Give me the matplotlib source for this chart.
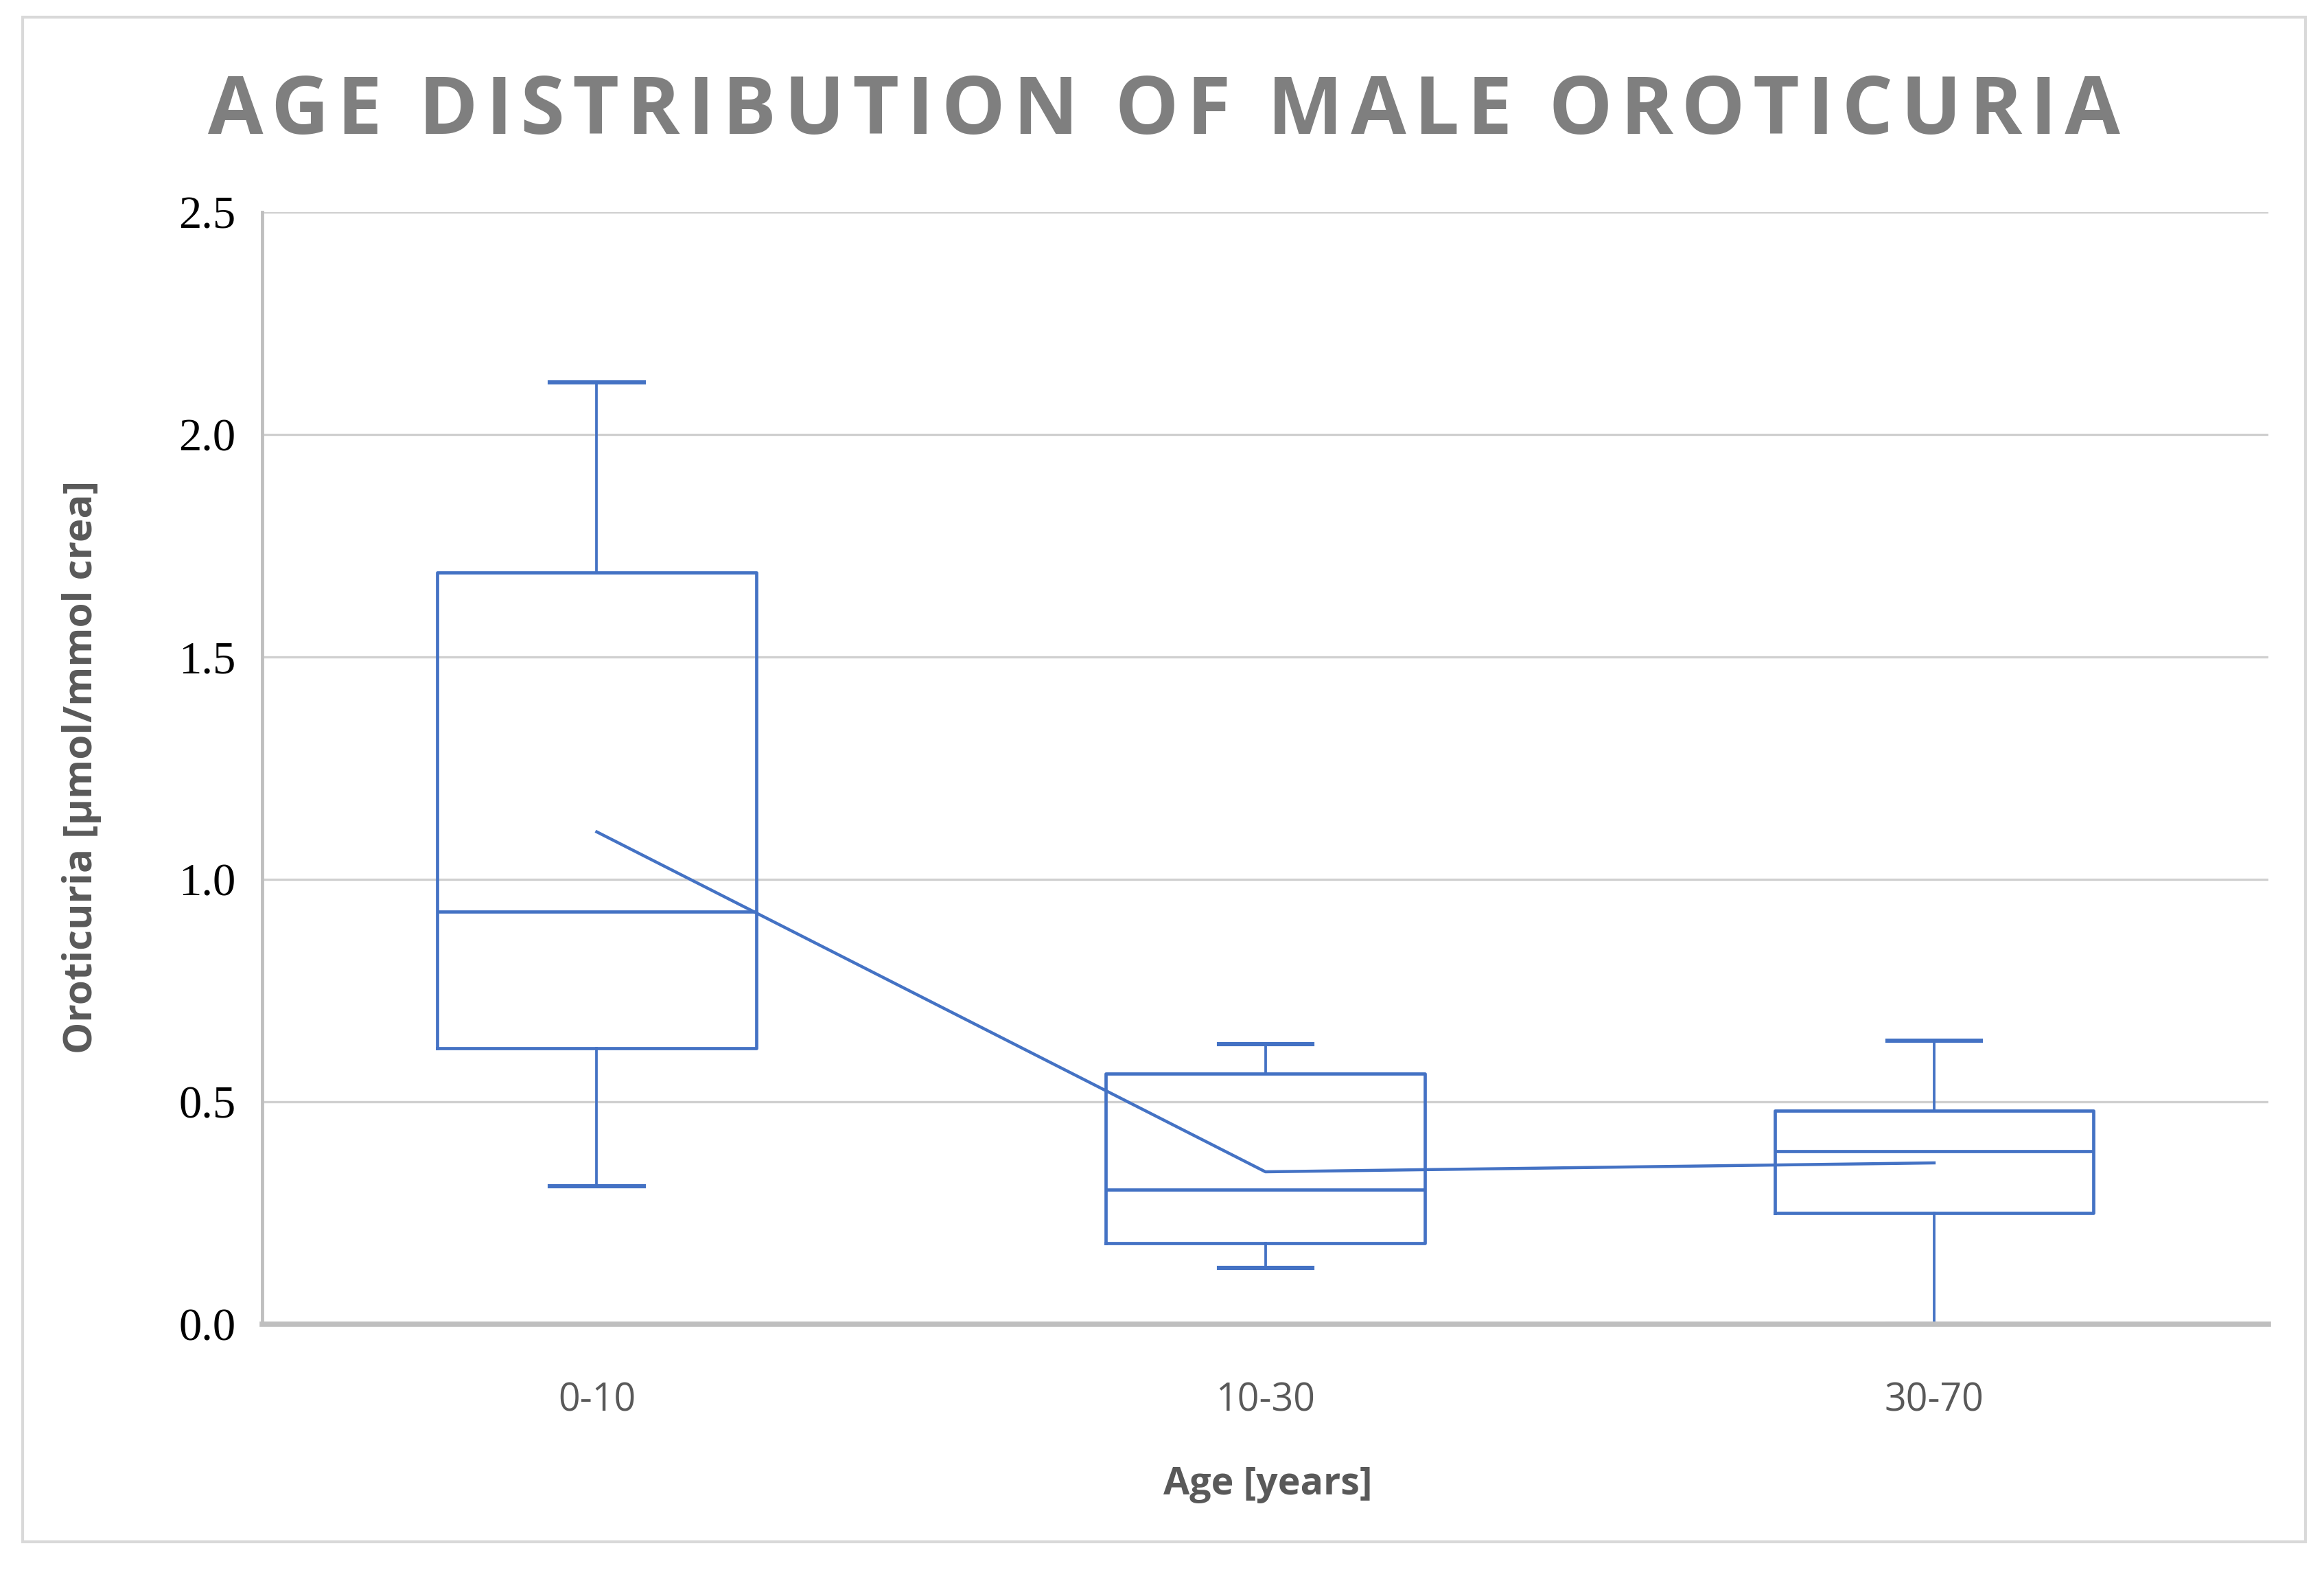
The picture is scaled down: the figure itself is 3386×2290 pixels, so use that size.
import matplotlib
matplotlib.use("Agg")
import matplotlib.pyplot as plt
import matplotlib.transforms as mtransforms
from matplotlib.patches import Rectangle

# values
groups = ["0-10", "10-30", "30-70"]
whislo = [0.31, 0.127, 0.0]
q1 = [0.62, 0.183, 0.25]
med = [0.927, 0.303, 0.39]
q3 = [1.69, 0.563, 0.48]
whishi = [2.117, 0.63, 0.637]
means = [1.107, 0.343, 0.363]
yticks = [0.0, 0.5, 1.0, 1.5, 2.0, 2.5]

title = "AGE DISTRIBUTION OF MALE OROTICURIA"

blue = "#4472C4"
grey_txt = "#595959"

fig = plt.figure(figsize=(33.87, 22.9), dpi=100)
fig.patch.set_facecolor("white")

# outer frame
fig.patches.append(Rectangle((0.0096, 0.019), 0.982, 0.970, transform=fig.transFigure,
                             fill=False, edgecolor="#D9D9D9", linewidth=3))

ax = fig.add_axes([0.1129, 0.1575, 0.8629, 0.7076])

stats = []
for i in range(len(groups)):
    stats.append(dict(label=groups[i], whislo=whislo[i], q1=q1[i], med=med[i],
                      q3=q3[i], whishi=whishi[i], fliers=[]))

pos = list(range(len(groups)))
lw = 3.4
ax.bxp(stats, positions=pos, widths=0.477, showfliers=False, patch_artist=False,
       boxprops=dict(color=blue, linewidth=lw),
       medianprops=dict(color=blue, linewidth=lw),
       whiskerprops=dict(color=blue, linewidth=lw * 0.8),
       capprops=dict(color=blue, linewidth=lw * 1.3),
       capwidths=0.14, zorder=3)

ax.plot(pos, means, color=blue, linewidth=3.2, zorder=4)

ax.set_xlim(-0.5, 2.5)
ax.set_ylim(0, 2.5)
ax.set_yticks(yticks)
ax.set_yticklabels(["%.1f" % v for v in yticks], fontfamily="Liberation Serif",
                   fontsize=48, color="black")
ax.set_xticks(pos)
ax.set_xticklabels(groups, fontfamily="Open Sans", fontsize=40, color=grey_txt)

# shift y tick labels a bit upward like the original
offset = mtransforms.ScaledTranslation(0, 0.18, fig.dpi_scale_trans)
for lab in ax.get_yticklabels():
    lab.set_transform(lab.get_transform() + offset)

ax.tick_params(axis="y", length=0, pad=28)
ax.tick_params(axis="x", length=0, pad=60)

ax.yaxis.grid(True, color="#D0D0D0", linewidth=2.4, zorder=0)
ax.set_axisbelow(True)
for s in ["top", "right"]:
    ax.spines[s].set_visible(False)
ax.spines["left"].set_color("#BFBFBF")
ax.spines["left"].set_linewidth(3.5)
ax.spines["bottom"].set_color("#BFBFBF")
ax.spines["bottom"].set_linewidth(5.5)
ax.spines["bottom"].set_zorder(6)

# spaced-out title, like the letter tracking in the original
spaced = "\u200a".join(title)
fig.text(0.5006, 0.928, spaced, ha="center", va="center",
         family=["Open Sans", "DejaVu Sans"], fontweight="bold", fontsize=84, color="#7F7F7F")
fig.text(0.035, 0.512, "Oroticuria [µmol/mmol crea]", rotation=90, ha="center", va="center",
         fontfamily="Open Sans", fontweight="bold", fontsize=42, color=grey_txt)
fig.text(0.5455, 0.0557, "Age [years]", ha="center", va="center",
         fontfamily="Open Sans", fontweight="bold", fontsize=40, color=grey_txt)

fig.savefig("out.png", dpi=100)
